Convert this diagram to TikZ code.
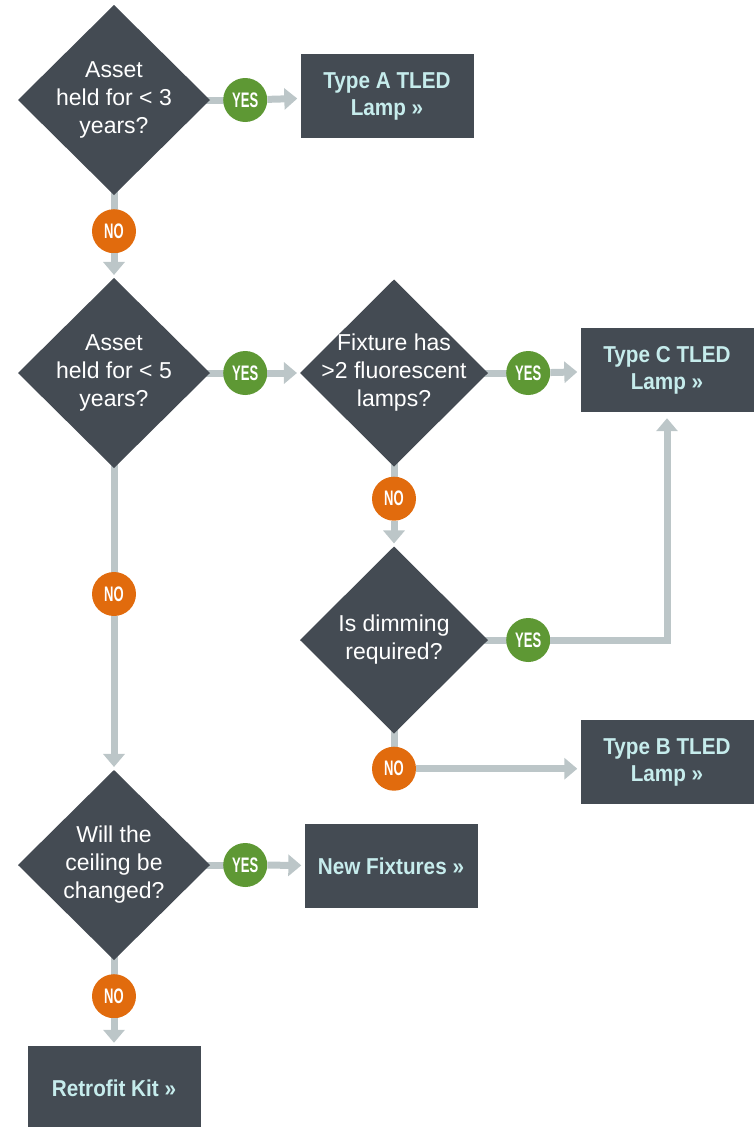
\documentclass[tikz,border=0pt]{standalone}
\usepackage{fontspec}
\setmainfont{Liberation Sans}
\newfontfamily\boxFont{Liberation Sans}[FakeStretch=0.9]
\newfontfamily\tagFont{Liberation Sans}[FakeStretch=0.62]
\usetikzlibrary{shapes,arrows.meta}
\usetikzlibrary{positioning,backgrounds}
\definecolor{myDark}{HTML}{444B53}
\definecolor{myCyan}{HTML}{C6ECEC}
\definecolor{myGreen}{HTML}{5E9834}
\definecolor{myOrange}{HTML}{E16B0D}
\definecolor{myGray}{HTML}{BCC6C8}

\begin{document}
\begin{tikzpicture}[x=1pt,y=-1pt,every text node part/.style={align=center}]
\tikzset{myFont/.style={font=\fontsize{23}{28}\selectfont,text=white}}
\tikzset{myDiamond/.style={diamond,fill=myDark,minimum width=192pt,minimum height=190pt,inner sep=0pt,outer sep=0pt}}
\tikzset{myBox/.style={fill=myDark,minimum width=173pt,minimum height=84pt,inner sep=0pt,text=myCyan,font=\boxFont\bfseries\fontsize{23}{27}\selectfont}}
\tikzset{myYes/.style={circle,fill=myGreen,minimum size=44pt,inner sep=0pt,text=white,font=\tagFont\bfseries\fontsize{21}{21}\selectfont}}
\tikzset{myNo/.style={myYes,fill=myOrange}}
\tikzset{myLine/.style={draw=myGray,line width=7pt}}
\tikzset{myArrow/.style={myLine,-{Triangle[width=21pt,length=13pt]},shorten >=3pt}}

\useasboundingbox (0,0) rectangle (753,1127);

\node[myDiamond,label={[myFont]center:Asset\\held for < 3\\years?}] (q1) at (114,100) {};
\node[myYes,right=13pt of q1] (yes1) {YES};
\node[myNo,below=14pt of q1] (no1) {NO};
\node[myBox] (typeA) at (387,96) {Type A TLED\\Lamp »};

\node[myDiamond,label={[myFont]center:Asset\\held for < 5\\years?}] (q2) at (114,373) {};
\node[myYes,right=13pt of q2] (yes2) {YES};
\node[myNo] (no2) at (114,594) {NO};

\node[myDiamond,minimum width=188pt,minimum height=187pt,label={[myFont]center:Fixture has\\>2 fluorescent\\lamps?}] (q3) at (394,373) {};
\node[myYes,right=18pt of q3] (yes3) {YES};
\node[myNo,below=10pt of q3] (no3) {NO};
\node[myBox] (typeC) at (667,370) {Type C TLED\\Lamp »};

\node[myDiamond,minimum width=188pt,minimum height=187pt,label={[myFont]center:Is dimming\\required?}] (q4) at (394,640) {};
\node[myYes,right=18pt of q4] (yes4) {YES};
\node[myNo,below=13pt of q4] (no4) {NO};
\node[myBox] (typeB) at (667,762) {Type B TLED\\Lamp »};

\node[myDiamond,label={[myFont]center:Will the\\ceiling be\\changed?}] (q5) at (114,865) {};
\node[myYes,right=13pt of q5] (yes5) {YES};
\node[myNo,below=14pt of q5] (no5) {NO};
\node[myBox] (fixtures) at (391,866) {New Fixtures »};
\node[myBox] (retrofit) at (114,1088) {Retrofit Kit »};

\begin{scope}[on background layer]
\path[myLine] (q1.center) -- (yes1.center);
\path[myLine] (q1.center) -- (no1.center);
\path[myLine] (q2.center) -- (yes2.center);
\path[myLine] (q2.center) -- (no2.center);
\path[myLine] (q3.center) -- (yes3.center);
\path[myLine] (q3.center) -- (no3.center);
\path[myLine] (q4.center) -- (yes4.center);
\path[myLine] (q4.center) -- (no4.center);
\path[myLine] (q5.center) -- (yes5.center);
\path[myLine] (q5.center) -- (no5.center);
\end{scope}

\draw[myArrow] (yes1) -- (typeA);
\draw[myArrow] (no1) -- (q2);
\draw[myArrow] (yes2) -- (q3);
\draw[myArrow] (yes3) -- (typeC);
\draw[myArrow] (no3) -- (q4);
\draw[myArrow,shorten >=6pt] (yes4) -| (typeC);
\draw[myArrow] (no4) -- (no4 -| typeB.west);
\draw[myArrow] (no2) -- (q5);
\draw[myArrow] (yes5) -- (fixtures);
\draw[myArrow] (no5) -- (retrofit);
\end{tikzpicture}
\end{document}
